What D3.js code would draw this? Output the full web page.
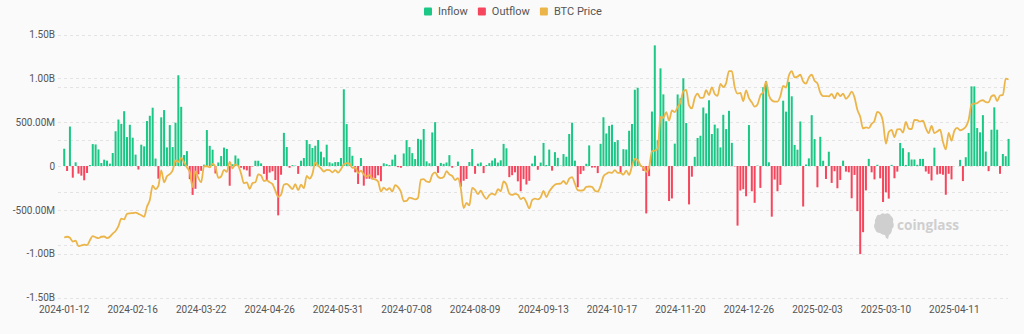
<!DOCTYPE html>
<html><head><meta charset="utf-8">
<script src="https://cdn.jsdelivr.net/npm/d3@7"></script>
<style>
html,body{margin:0;padding:0;background:#fafafa;}
svg{display:block;font-family:Roboto,"Noto Sans",sans-serif;}
</style></head><body>
<svg id="chart" width="1024" height="334"></svg>
<script>
// ---- categories: US trading days, grouped by month ----
const tradingDays = [
  ["2024-01",[12,16,17,18,19,22,23,24,25,26,29,30,31]],
  ["2024-02",[1,2,5,6,7,8,9,12,13,14,15,16,20,21,22,23,26,27,28,29]],
  ["2024-03",[1,4,5,6,7,8,11,12,13,14,15,18,19,20,21,22,25,26,27,28]],
  ["2024-04",[1,2,3,4,5,8,9,10,11,12,15,16,17,18,19,22,23,24,25,26,29,30]],
  ["2024-05",[1,2,3,6,7,8,9,10,13,14,15,16,17,20,21,22,23,24,28,29,30,31]],
  ["2024-06",[3,4,5,6,7,10,11,12,13,14,17,18,20,21,24,25,26,27,28]],
  ["2024-07",[1,2,3,5,8,9,10,11,12,15,16,17,18,19,22,23,24,25,26,29,30,31]],
  ["2024-08",[1,2,5,6,7,8,9,12,13,14,15,16,19,20,21,22,23,26,27,28,29,30]],
  ["2024-09",[3,4,5,6,9,10,11,12,13,16,17,18,19,20,23,24,25,26,27,30]],
  ["2024-10",[1,2,3,4,7,8,9,10,11,14,15,16,17,18,21,22,23,24,25,28,29,30,31]],
  ["2024-11",[1,4,5,6,7,8,11,12,13,14,15,18,19,20,21,22,25,26,27,29]],
  ["2024-12",[2,3,4,5,6,9,10,11,12,13,16,17,18,19,20,23,24,26,27,30,31]],
  ["2025-01",[2,3,6,7,8,10,13,14,15,16,17,21,22,23,24,27,28,29,30,31]],
  ["2025-02",[3,4,5,6,7,10,11,12,13,14,18,19,20,21,24,25,26,27,28]],
  ["2025-03",[3,4,5,6,7,10,11,12,13,14,17,18,19,20,21,24,25,26,27,28,31]],
  ["2025-04",[1,2,3,4,7,8,9,10,11,14,15,16,17,21,22,23,24,25,28,29,30]],
  ["2025-05",[1,2,5,6,7,8,9]]
];

// ---- net flow, million USD (positive = inflow, negative = outflow) ----
const netFlowM = [
  197,-57,450,-133,42,-87,-110,-163,-80,11,250,246,189,
  34,72,61,27,148,396,530,481,625,330,470,323,130,-40,243,224,513,573,665,85,
  -145,555,638,212,467,216,494,1035,675,125,170,-150,-330,-260,-95,-55,15,410,230,186,
  -85,40,113,210,195,-225,20,120,85,-20,-40,-50,-120,-5,60,60,30,-90,-160,-75,-60,-160,
  -563,-100,378,217,-20,10,5,-90,60,91,296,250,205,231,296,163,99,243,42,30,45,45,
  91,875,478,217,117,-72,-205,91,-224,-145,-146,-152,-140,-106,-174,31,21,11,73,
  129,-13,-20,143,295,216,147,79,310,301,422,53,31,383,500,-78,35,25,40,124,-20,0,
  50,-237,-168,-148,45,194,-89,27,40,-81,11,33,62,88,39,65,252,202,-127,-105,-72,-175,
  -288,-150,-211,-169,28,117,-43,39,263,12,187,-53,158,93,4,136,106,365,494,61,
  -242,-92,-54,25,235,-18,-17,-81,253,556,371,458,471,273,295,-79,192,188,402,479,870,893,10,
  -55,-541,-116,621,1376,294,1114,817,510,-400,-370,255,816,773,1000,490,-438,-122,105,320,
  345,667,600,750,365,472,430,212,584,421,629,264,-5,-680,-280,-265,-345,467,-288,-420,5,
  -250,898,970,42,-578,-155,-288,-216,745,620,960,795,240,186,508,-462,17,87,580,307,
  -243,333,60,-148,163,-193,-60,-254,-159,61,-64,-72,-368,-102,-515,-1005,-755,-278,81,
  -72,-153,14,-140,-411,-300,-372,13,-140,-64,263,203,12,157,74,74,14,81,81,-63,-89,
  -165,209,-97,-89,-100,-328,-89,-153,0,0,70,-172,100,377,908,908,433,384,580,165,-59,
  414,669,414,-89,137,112,309
];

// ---- BTC price, thousand USD ----
const btcPriceK = [
  42.8,43.1,42.7,41.3,41.6,39.5,39.8,40.1,39.9,41.8,43.3,42.9,42.6,
  43.1,43.2,42.6,43.1,44.3,45.3,47.1,50.0,49.7,51.8,52.0,52.1,52.3,51.8,51.3,50.7,54.5,57.1,62.5,61.2,
  62.4,68.3,63.8,66.1,66.9,68.3,72.1,71.5,73.1,71.4,69.5,67.6,62.0,67.9,65.5,63.8,69.9,69.9,69.5,70.8,
  69.7,65.5,66.0,68.5,67.8,71.6,69.1,70.6,70.0,67.1,63.4,63.8,61.3,63.5,63.8,66.8,66.4,64.3,64.5,63.8,63.1,60.6,
  58.3,59.1,62.9,63.2,62.3,61.2,63.1,60.8,62.9,61.6,66.2,65.2,67.0,71.4,70.1,69.1,67.9,68.5,68.4,67.6,68.4,67.5,
  68.8,70.6,71.1,70.8,69.3,69.5,67.3,68.2,66.8,66.0,66.5,65.2,64.9,64.1,60.3,61.8,60.9,61.6,60.3,
  62.7,62.0,60.2,56.6,56.7,58.0,57.7,57.3,57.9,64.8,65.0,64.1,63.9,66.7,67.6,65.9,65.4,65.8,68.0,66.8,66.2,64.6,
  65.4,61.5,54.0,56.0,55.0,61.7,60.9,59.3,60.6,58.7,57.5,58.9,59.5,59.0,61.2,60.4,64.1,62.9,59.5,59.0,59.4,59.1,
  57.4,58.0,56.2,53.9,57.0,57.6,57.3,58.1,60.5,58.2,60.3,61.8,62.9,63.2,63.3,64.3,63.1,65.2,65.8,63.3,
  60.8,60.6,60.8,62.1,62.2,62.1,60.6,60.3,62.4,66.0,67.0,67.6,67.4,68.4,67.4,67.4,66.7,68.2,66.6,69.9,72.7,72.3,70.2,
  69.5,67.8,69.4,75.6,75.9,76.5,88.7,88.3,90.5,87.3,91.1,90.5,92.3,94.3,98.4,98.9,93.0,91.9,95.9,97.5,
  95.9,96.0,98.8,97.0,99.9,97.4,96.7,101.2,100.0,101.5,106.1,106.1,100.0,97.5,97.8,94.7,98.7,95.8,94.2,92.6,93.4,
  96.9,98.1,102.1,96.9,95.0,94.5,94.5,96.5,100.5,99.8,104.4,106.1,103.7,104.0,104.7,102.1,101.3,103.7,104.7,102.4,
  101.4,97.9,96.6,96.6,96.5,97.4,95.7,97.8,96.6,97.5,95.5,96.6,98.3,96.1,91.4,88.7,84.3,84.7,84.4,
  86.0,87.2,90.6,89.9,86.7,78.5,82.9,83.7,81.0,83.9,84.0,82.7,86.8,84.2,84.0,87.5,87.4,86.9,87.2,84.4,82.5,
  85.2,82.5,83.1,83.8,79.2,76.3,82.6,79.6,83.4,84.5,83.6,84.0,84.9,87.5,93.4,93.7,93.9,94.7,95.0,94.3,94.2,
  96.5,96.9,94.7,96.8,97.0,103.2,102.9
];

// ---- axis ticks ----
const flowTicks = [-1.5e9,-1e9,-5e8,0,5e8,1e9,1.5e9];
const flowTickLabels = ["-1.50B","-1.00B","-500.00M","0","500.00M","1.00B","1.50B"];
const priceTicks = [20000,40000,60000,80000,100000,120000];
const xLabelEvery = 24;
const legendItems = [["Inflow","#1bc785"],["Outflow","#f6465d"],["BTC Price","#ecb54a"]];

// ---- build rows ----
const dates = tradingDays.flatMap(([ym, days]) => days.map(d => ym + "-" + String(d).padStart(2,"0")));
const rows = dates.map((d,i) => ({date:d, flow:netFlowM[i]*1e6, price:btcPriceK[i]*1000}));

const svg = d3.select("#chart");
const W = 1024, H = 334;
const L = 62.8, R = 1010, T = 34.5, B = 297.5, gridL = 58, gridR = 1008;

svg.append("rect").attr("width",W).attr("height",H).attr("fill","#fafafa");

const x = d3.scaleBand().domain(dates).range([L,R]).padding(0);
const step = x.step();
const yFlow = d3.scaleLinear().domain([-1.5e9,1.5e9]).range([B,T]);
const yPrice = d3.scaleLinear().domain([20000,120000]).range([B,T]);

// grid lines
const grid = svg.append("g").attr("stroke","#e3e3e3").attr("stroke-dasharray","3,3").attr("stroke-width",1);
flowTicks.forEach(t => grid.append("line").attr("x1",gridL).attr("x2",gridR)
  .attr("y1",Math.round(yFlow(t))+0.5).attr("y2",Math.round(yFlow(t))+0.5));
priceTicks.forEach(t => grid.append("line").attr("x1",gridL).attr("x2",gridR)
  .attr("y1",Math.round(yPrice(t))+0.5).attr("y2",Math.round(yPrice(t))+0.5));

// left axis
const yAxis = d3.axisLeft(yFlow).tickValues(flowTicks).tickFormat((d,i)=>flowTickLabels[i]).tickSize(0).tickPadding(3);
const gy = svg.append("g").attr("transform",`translate(${gridL},0)`).call(yAxis);
gy.select(".domain").remove();
gy.selectAll("text").attr("fill","#555").attr("font-size",10).attr("font-family","Roboto,sans-serif");

// bottom axis
const xAxis = d3.axisBottom(x).tickValues(dates.filter((d,i)=>i%xLabelEvery===0)).tickSize(0).tickPadding(8);
const gx = svg.append("g").attr("transform",`translate(0,${B})`).call(xAxis);
gx.select(".domain").remove();
gx.selectAll("text").attr("fill","#555").attr("font-size",10).attr("font-family","Roboto,sans-serif");

// bars
const bw = step*0.7;
svg.append("g").selectAll("rect").data(rows.filter(r=>r.flow!==0)).join("rect")
  .attr("x", r => x(r.date) + (step-bw)/2)
  .attr("width", bw)
  .attr("y", r => Math.min(yFlow(r.flow), yFlow(0)))
  .attr("height", r => Math.abs(yFlow(r.flow)-yFlow(0)))
  .attr("fill", r => r.flow > 0 ? "#1bc785" : "#f6465d");

// watermark
const wm = svg.append("g").attr("fill","#cfcfcf");
wm.append("path").attr("d","M876,218 q1,-4 4,-3 q2,-3 5,-1 q4,-2 6,2 q3,2 2,6 q2,4 -1,7 q0,4 -3,6 l-1,4 l-2,-1 l-1,-3 q-3,0 -5,-2 q-4,0 -5,-4 q-2,-3 0,-6 q-1,-3 1,-5 z");
wm.append("text").attr("x",897).attr("y",230).attr("font-size",15).attr("font-weight",700)
  .attr("font-family","'Open Sans',Lato,sans-serif").attr("textLength",62).attr("lengthAdjust","spacingAndGlyphs")
  .text("coinglass");

// price line
const line = d3.line().x(r => x(r.date)+step/2).y(r => yPrice(r.price)).curve(d3.curveMonotoneX);
svg.append("path").datum(rows).attr("d",line).attr("fill","none").attr("stroke","#ecb54a").attr("stroke-width",1.8);

// legend
const lg = svg.append("g").attr("font-size",11).attr("font-family","Roboto,sans-serif");
let cx = 0; const items = [];
const gap = 10;
legendItems.forEach(([name,color]) => {
  const g = lg.append("g");
  g.append("rect").attr("x",0).attr("y",-4).attr("width",8).attr("height",8).attr("rx",1).attr("fill",color);
  const t = g.append("text").attr("x",14).attr("y",0).attr("dy","0.35em").attr("fill","#555").text(name);
  const w = 14 + t.node().getComputedTextLength();
  items.push([g,cx]); cx += w + gap;
});
const start = 424;
items.forEach(([g,o]) => g.attr("transform",`translate(${start+o},11.5)`));
</script>
</body></html>
